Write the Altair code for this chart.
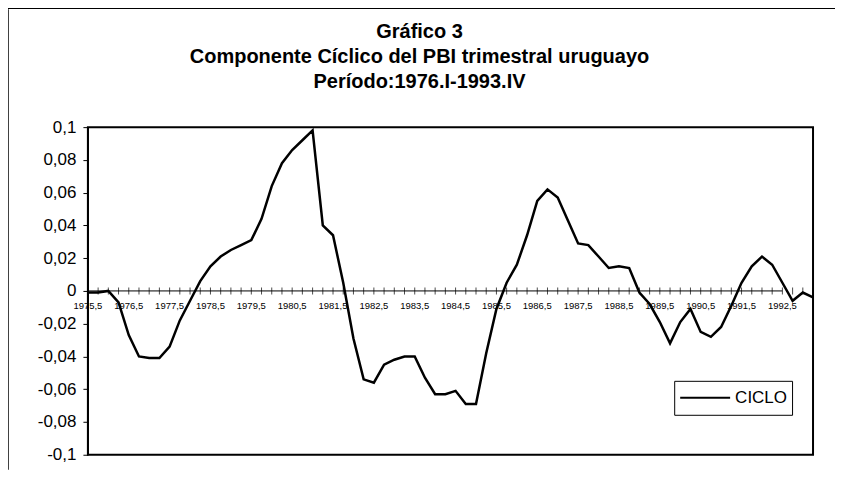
import altair as alt
import pandas as pd

# Cyclical component of quarterly Uruguayan GDP, 1976.I - 1993.IV (72 quarters)
ciclo = [
    -0.001, -0.001, 0.000, -0.007, -0.027, -0.040, -0.041, -0.041,
    -0.034, -0.018, -0.006, 0.006, 0.015, 0.021, 0.025, 0.028,
    0.031, 0.044, 0.064, 0.078, 0.086, 0.092, 0.098, 0.040,
    0.034, 0.005, -0.029, -0.054, -0.056, -0.045, -0.042, -0.040,
    -0.040, -0.053, -0.063, -0.063, -0.061, -0.069, -0.069, -0.038,
    -0.011, 0.005, 0.016, 0.034, 0.055, 0.062, 0.057, 0.043,
    0.029, 0.028, 0.021, 0.014, 0.015, 0.014, -0.001, -0.008,
    -0.019, -0.032, -0.019, -0.011, -0.025, -0.028, -0.022, -0.009,
    0.005, 0.015, 0.021, 0.016, 0.005, -0.006, -0.001, -0.004,
]
x_labels = ["1975,5", "1976,5", "1977,5", "1978,5", "1979,5", "1980,5",
            "1981,5", "1982,5", "1983,5", "1984,5", "1985,5", "1986,5",
            "1987,5", "1988,5", "1989,5", "1990,5", "1991,5", "1992,5"]
label_every = 4
y_ticks = [0.1, 0.08, 0.06, 0.04, 0.02, 0.0, -0.02, -0.04, -0.06, -0.08, -0.1]
title_lines = ["Gráfico 3",
               "Componente Cíclico del PBI trimestral uruguayo",
               "Período:1976.I-1993.IV"]
series_name = "CICLO"

FONT = "Liberation Sans"
n = len(ciclo)

df = pd.DataFrame({"i": list(range(n)), "v": ciclo, "serie": series_name})
ticks_df = pd.DataFrame({"i": list(range(n)), "z": [0.0] * n})
labels_df = pd.DataFrame({"i": [k * label_every for k in range(len(x_labels))],
                          "lab": x_labels, "z": [0.0] * len(x_labels)})
one_df = pd.DataFrame({"a": [0]})

xscale = alt.Scale(domain=[0, n - 1], nice=False, zero=False, padding=0)
yscale = alt.Scale(domain=[-0.1, 0.1], nice=False, zero=False)

lbl_expr = "replace(replace(format(datum.value, '.2~f'), '.', ','), '\u2212', '-')"

yaxis = alt.Axis(values=y_ticks, labelExpr=lbl_expr, title=None,
                 grid=False, tickSize=5, labelPadding=7,
                 labelOverlap=False, labelBound=False,
                 domainColor="black", tickColor="black",
                 domainWidth=1, tickWidth=1,
                 labelColor="black", labelFont=FONT,
                 labelFontSize=17)

line = alt.Chart(df).mark_line(strokeWidth=2.5, interpolate="linear").encode(
    x=alt.X("i:Q", scale=xscale, axis=None),
    y=alt.Y("v:Q", scale=yscale, axis=yaxis),
    color=alt.Color("serie:N", scale=alt.Scale(range=["black"]),
                    legend=alt.Legend(orient="none", legendX=587, legendY=254,
                                      title=None, symbolType="stroke",
                                      symbolSize=2500, symbolStrokeWidth=2,
                                      symbolStrokeColor="black",
                                      labelFont=FONT, labelFontSize=17,
                                      labelColor="black", labelOffset=4,
                                      clipHeight=24,
                                      padding=5, strokeColor="black",
                                      fillColor="white")),
)

zero_line = alt.Chart(labels_df).mark_rule(color="black", strokeWidth=1).encode(
    x=alt.X("min(i):Q", axis=None), x2=alt.X2("max(i):Q"),
    y=alt.Y("min(z):Q", axis=yaxis)
)

xticks = alt.Chart(ticks_df).mark_tick(orient="vertical", size=7, thickness=1,
                                       color="black").encode(
    x=alt.X("i:Q", axis=None),
    y=alt.Y("z:Q", axis=yaxis),
)

xtext = alt.Chart(labels_df).mark_text(baseline="top", dy=10, fontSize=9.5,
                                       font=FONT, color="black").encode(
    x=alt.X("i:Q", axis=None),
    y=alt.Y("z:Q", axis=yaxis),
    text="lab:N",
)

frame_left = alt.Chart(one_df).mark_rule(color="black", strokeWidth=1.5).encode(
    x=alt.value(-80), y=alt.value(-118), y2=alt.value(343)
)
frame_top = alt.Chart(one_df).mark_rule(color="black", strokeWidth=1.5).encode(
    x=alt.value(-80), x2=alt.value(748), y=alt.value(-119)
)

chart = alt.layer(line, zero_line, xticks, xtext, frame_left, frame_top).properties(
    width=726, height=328,
    autosize=alt.AutoSizeParams(type="none"),
    padding={"left": 80, "top": 119, "right": 22, "bottom": 15},
    title=alt.TitleParams(text=title_lines, font=FONT, fontSize=20,
                          fontWeight="bold", color="black", anchor="middle",
                          frame="group", lineHeight=25, offset=-85, dx=-31),
).configure_view(stroke="black", strokeWidth=2)

chart.save("out.html", embed_options={"renderer": "svg", "actions": False})
